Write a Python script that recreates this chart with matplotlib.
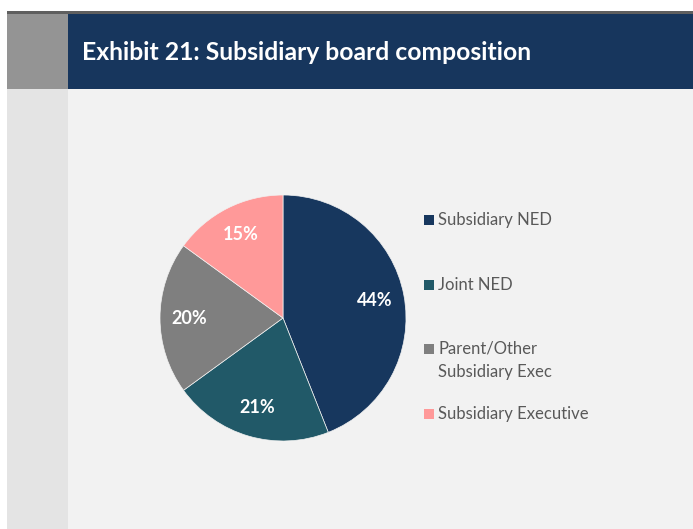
import matplotlib
matplotlib.use('Agg')
import matplotlib.pyplot as plt
from matplotlib.patches import Rectangle

plt.rcParams['font.family'] = ['Lato', 'DejaVu Sans']

title = "Exhibit 21: Subsidiary board composition"
labels = ["Subsidiary NED", "Joint NED", "Parent/Other\nSubsidiary Exec", "Subsidiary Executive"]
shares = [44, 21, 20, 15]
colors = ["#17375e", "#215968", "#7f7f7f", "#ff9999"]

W, H = 693, 529
fig = plt.figure(figsize=(W / 100, H / 100), dpi=100)
fig.patch.set_facecolor("white")

def box(x0, y0, x1, y1, color, z=0):
  # pixel box, top-left origin
  fig.add_artist(Rectangle((x0 / W, 1 - y1 / H), (x1 - x0) / W, (y1 - y0) / H,
                           transform=fig.transFigure, facecolor=color, edgecolor="none", zorder=z))

box(7, 89, W, H, "#f2f2f2")
box(7, 89, 68, H, "#e4e4e4")
box(7, 11, W, 14, "#5f5f5f")
box(7, 14, 68, 89, "#949494")
box(68, 14, W, 89, "#17365d")

fig.text(82 / W, 1 - 53 / H, title, color="white", fontsize=17.8, fontweight="bold",
         va="center", ha="left")

cx, cy, r = 283, 318, 123
ax = fig.add_axes([(cx - r) / W, 1 - (cy + r) / H, 2 * r / W, 2 * r / H])
ax.set_facecolor("none")
wedges, texts, autotexts = ax.pie(shares, colors=colors, startangle=90, counterclock=False,
                                  autopct=lambda p: "%d%%" % round(p), pctdistance=0.76,
                                  wedgeprops=dict(edgecolor="#f2f2f2", linewidth=0.5))
for t in autotexts:
  t.set_color("white")
  t.set_fontsize(13)
  t.set_fontweight("bold")
ax.set_xlim(-1, 1)
ax.set_ylim(-1, 1)
ax.set_aspect("equal")

# legend drawn by hand to follow the Excel layout
legend_rows = [220, 285, 349, 414]
line_step = 23
for lab, col, y in zip(labels, colors, legend_rows):
  box(424, y - 5, 434, y + 5, col, z=2)
  for k, line in enumerate(lab.split("\n")):
    fig.text(438 / W, 1 - (y + k * line_step) / H, line, color="#595959", fontsize=12,
             va="center", ha="left")

fig.savefig("out.png", dpi=100, facecolor=fig.get_facecolor())
